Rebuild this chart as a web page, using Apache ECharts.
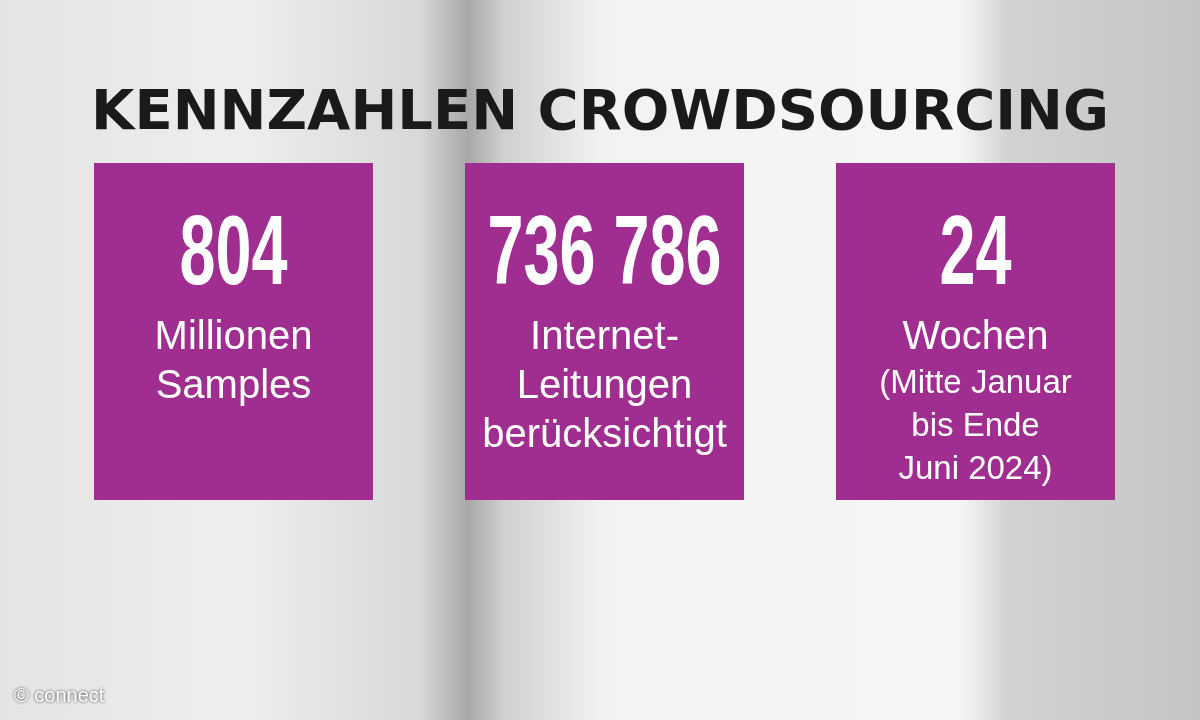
<!DOCTYPE html>
<html><head><meta charset="utf-8">
<script src="https://cdn.jsdelivr.net/npm/echarts@6/dist/echarts.min.js"></script>
<style>html,body{margin:0;padding:0}#main{width:1200px;height:720px}</style>
</head><body><div id="main"></div>
<script>
var chart = echarts.init(document.getElementById('main'));

var title = 'KENNZAHLEN CROWDSOURCING';
var categories = ['samples', 'leitungen', 'wochen'];
var figures = ['804', '736 786', '24'];
var labels = [
    ['Millionen', 'Samples'],
    ['Internet-', 'Leitungen', 'berücksichtigt'],
    ['Wochen']
];
var notes = [[], [], ['(Mitte Januar', 'bis Ende', 'Juni 2024)']];
var credit = '© connect';

function renderBox(params, api) {
    var i = api.value(0);
    var c = api.coord([i, 0]);
    var w = api.size([1, 0])[0] * 0.752;
    var children = [{
        type: 'rect',
        shape: {x: c[0] - w / 2, y: 163, width: w, height: 337},
        style: {fill: '#a02e90'}
    }, {
        type: 'text',
        x: c[0], y: 257, scaleX: 0.66,
        style: {text: figures[i], x: 0, y: 0, align: 'center', verticalAlign: 'middle',
            fill: '#fff', font: 'bold 98px "Liberation Sans", Arial, sans-serif'}
    }];
    labels[i].forEach(function (t, k) {
        children.push({type: 'text', style: {text: t, x: c[0], y: 338 + k * 49, align: 'center',
            verticalAlign: 'middle', fill: '#fff', font: '40px "Liberation Sans", Arial, sans-serif'}});
    });
    notes[i].forEach(function (t, k) {
        children.push({type: 'text', style: {text: t, x: c[0], y: 384 + k * 43, align: 'center',
            verticalAlign: 'middle', fill: '#fff', font: '33px "Liberation Sans", Arial, sans-serif'}});
    });
    return {type: 'group', children: children};
}

var option = {
    backgroundColor: {
        type: 'linear', x: 0, y: 0, x2: 1, y2: 0,
        colorStops: [
            {offset: 0, color: '#e4e4e4'}, {offset: 0.2, color: '#eeeeee'},
            {offset: 0.35, color: '#d8d8d8'}, {offset: 0.39, color: '#a8a8a8'},
            {offset: 0.42, color: '#d0d0d0'}, {offset: 0.5, color: '#f2f2f2'},
            {offset: 0.8, color: '#f6f6f6'}, {offset: 0.84, color: '#d2d2d2'},
            {offset: 1, color: '#c4c4c4'}
        ]
    },
    grid: {left: 48, right: 39, top: 0, bottom: 0},
    xAxis: {type: 'category', data: categories, show: false},
    yAxis: {type: 'value', show: false, min: 0, max: 1},
    graphic: [{
        type: 'text', left: 'center', top: 86,
        style: {text: title, fill: '#1a1a1a', font: 'bold 56px "DejaVu Sans", sans-serif'}
    }, {
        type: 'text', left: 14, top: 686,
        style: {text: credit, fill: '#fff', font: '20px "Liberation Sans", Arial, sans-serif',
            textShadowColor: 'rgba(0,0,0,0.8)', textShadowBlur: 3}
    }],
    series: [{
        type: 'custom',
        renderItem: renderBox,
        data: categories.map(function (c, i) { return [i, 0]; })
    }]
};
chart.setOption(option);
</script></body></html>
